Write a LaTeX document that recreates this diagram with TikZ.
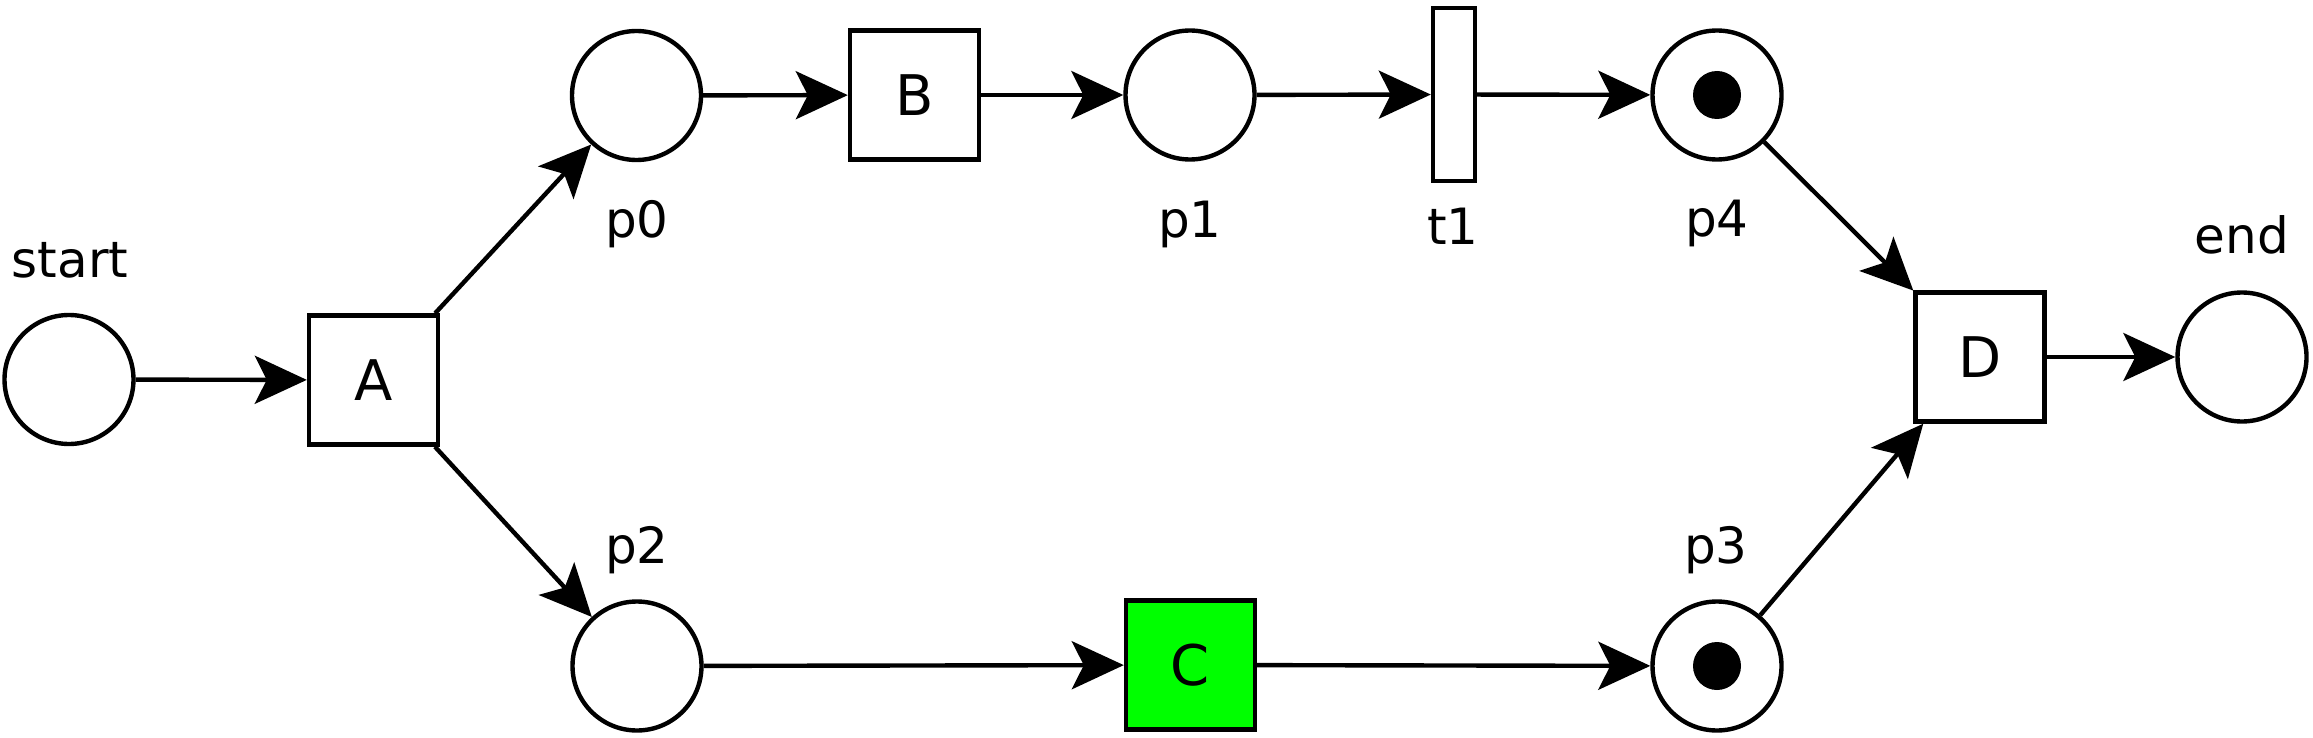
\documentclass[tikz,border=0pt]{standalone}
\usepackage{fontspec}
\setmainfont{DejaVu Sans}
\usetikzlibrary{arrows.meta}
\definecolor{firegreen}{RGB}{0,255,0}
\tikzset{
  place/.style={circle,draw,line width=2.2pt,minimum size=64.5pt,inner sep=0pt,fill=white},
  trans/.style={rectangle,draw,line width=2.2pt,minimum width=64.5pt,minimum height=64.5pt,inner sep=0pt,fill=white,font=\fontsize{28}{32}\selectfont},
  thintrans/.style={rectangle,draw,line width=2.2pt,minimum width=21pt,minimum height=86.5pt,inner sep=0pt,fill=white},
  lbl/.style={inner sep=0pt,anchor=base,font=\fontsize{25}{30}\selectfont},
  arc/.style={line width=2.2pt,-{Stealth[length=26pt,width=24pt,inset=6pt]}},
  token/.style={fill=black}
}
\begin{document}
\begin{tikzpicture}[x=0.5pt,y=-0.5pt]
\useasboundingbox (0,0) rectangle (2313,738);
% places
\node[place] (start) at (69,379.5) {};
\node[place] (p0) at (636.5,95.5) {};
\node[place] (p1) at (1190,95) {};
\node[place] (p4) at (1717,95) {};
\node[place] (end) at (2242,357) {};
\node[place] (p2) at (637,666) {};
\node[place] (p3) at (1717,666) {};
% transitions
\node[trans] (A) at (373.5,380) {A};
\node[trans] (B) at (914.5,95) {B};
\node[thintrans] (t1) at (1454,94.5) {};
\node[trans] (D) at (1980,357) {D};
\node[trans,fill=firegreen] (C) at (1190.5,665) {C};
% tokens
\fill[token] (p4.center) circle[radius=12pt];
\fill[token] (p3.center) circle[radius=12pt];
% labels
\node[lbl] (lstart) at (70,277) {start};
\node[lbl] (lp0) at (637,237) {p0};
\node[lbl] (lp1) at (1190,237) {p1};
\node[lbl] (lt1) at (1453,244) {t1};
\node[lbl] (lp4) at (1717,236) {p4};
\node[lbl] (lend) at (2242,253) {end};
\node[lbl] (lp2) at (637,563) {p2};
\node[lbl] (lp3) at (1716,563) {p3};
% arcs
\draw[arc] (start) -- (A);
\draw[arc] (A) -- (p0);
\draw[arc] (A) -- (p2);
\draw[arc] (p0) -- (B);
\draw[arc] (B) -- (p1);
\draw[arc] (p1) -- (t1);
\draw[arc] (t1) -- (p4);
\draw[arc] (p4) -- (D);
\draw[arc] (p2) -- (C);
\draw[arc] (C) -- (p3);
\draw[arc] (p3) -- (D);
\draw[arc] (D) -- (end);
\end{tikzpicture}
\end{document}
